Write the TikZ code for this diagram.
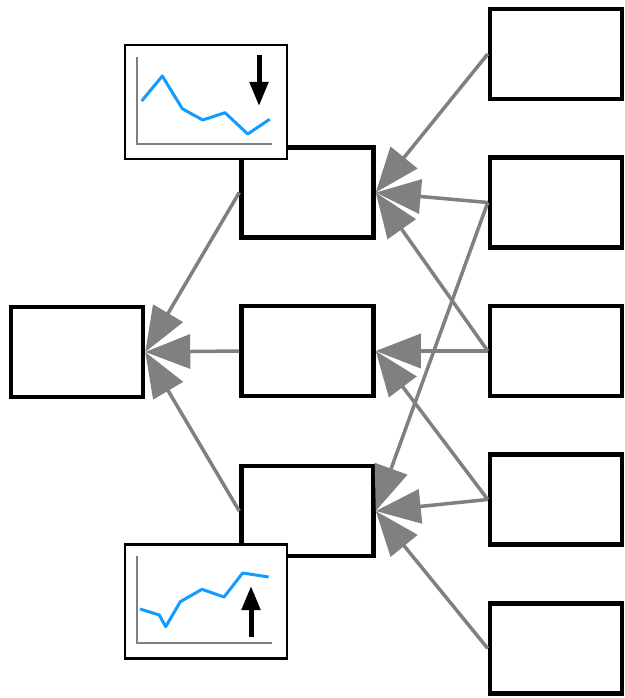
\documentclass[tikz,border=0pt]{standalone}
\usepackage{tikz}
\usetikzlibrary{arrows.meta}
\definecolor{trendblue}{RGB}{20,155,255}
\tikzset{
  box/.style={draw, line width=4.5pt, minimum width=132pt, minimum height=90pt, inner sep=0pt},
  inset/.style={draw, fill=white, line width=2.5pt, minimum width=162pt, minimum height=114pt, inner sep=0pt},
  link/.style={gray, line width=3.5pt, -{Triangle[length=45pt,width=34pt]}},
  trend/.style={trendblue, line width=3pt, line join=round},
  axis/.style={gray, line width=1.2pt},
  hint/.style={line width=5pt, -{Triangle[length=24pt,width=18pt]}}
}

\begin{document}
\begin{tikzpicture}[x=1pt,y=-1pt]
\useasboundingbox (0,0) rectangle (624,698);
% boxes
\node[box] (out) at (77,352) {};
\node[box] (hidA) at (307.5,192.5) {};
\node[box] (hidB) at (307.5,351) {};
\node[box] (hidC) at (307.5,511) {};
\foreach \i/\y in {1/54, 2/202.5, 3/351, 4/499.5, 5/648.5}
  \node[box] (in\i) at (556,\y) {};
% links
\foreach \a/\b in {in1/hidA, in2/hidA, in2/hidC, in3/hidA, in3/hidB,
                   in4/hidB, in4/hidC, in5/hidC, hidA/out, hidB/out, hidC/out}
  \draw[link] (\a.west) -- (\b.east);
% falling chart
\node[inset] (fall) at (206,102) {};
\draw[axis] (137,57) -- (137,144) -- (272,144);
\draw[trend] (141.7,101) -- (162.3,76) -- (182.3,108.7) -- (202.7,120)
  -- (225,112.7) -- (247.7,134) -- (269.7,119.3);
\draw[hint] (259,55) -- (259,106);
% rising chart
\node[inset] (rise) at (206,601.5) {};
\draw[axis] (137,556) -- (137,643) -- (272,643);
\draw[trend] (140,609) -- (159.3,615) -- (165.7,626.7) -- (180.3,601.7)
  -- (202,589.3) -- (224,597) -- (242.7,573) -- (268.7,577);
\draw[hint] (251,637) -- (251,586);
\end{tikzpicture}
\end{document}
